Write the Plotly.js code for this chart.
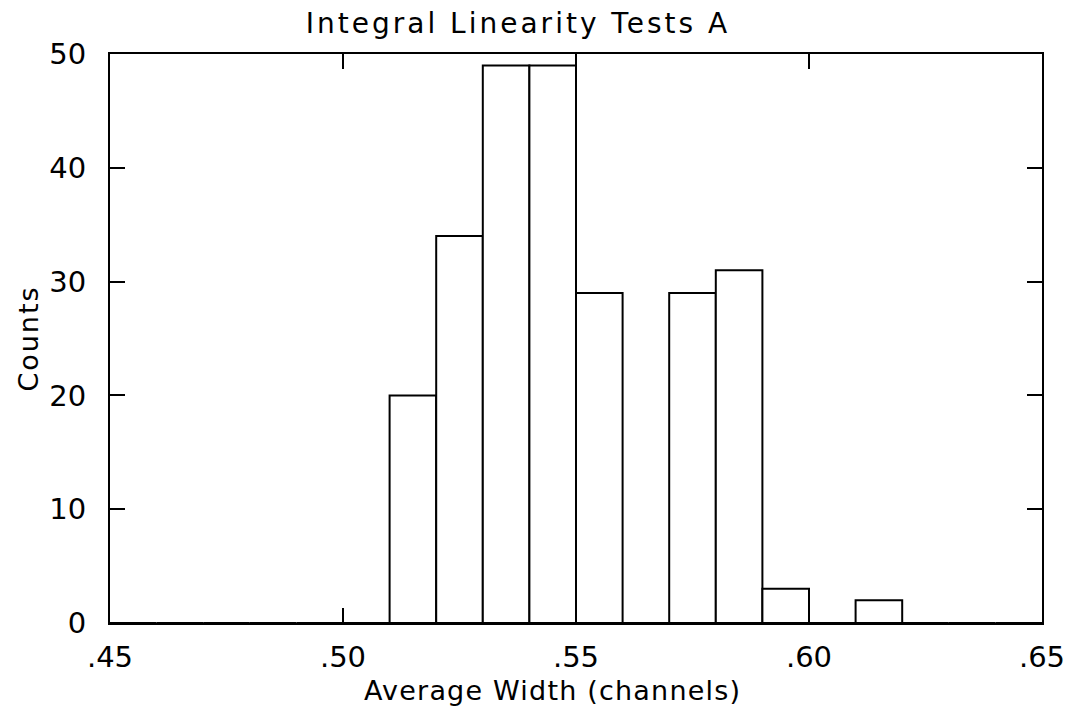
<!DOCTYPE html>
<html>
<head>
<meta charset="utf-8">
<script src="https://cdn.plot.ly/plotly-3.0.1.min.js"></script>
<style>
html,body{margin:0;padding:0;background:#fff;}
#chart{width:1068px;height:712px;}
.gtitle{letter-spacing:3px;}
.g-ytitle text{letter-spacing:2px;}
.annotation-text{letter-spacing:1.2px;}
</style>
</head>
<body>
<div id="chart"></div>
<script>
// Histogram bins (left edges) and counts
var binStarts = [0.45, 0.46, 0.47, 0.48, 0.49, 0.50, 0.51, 0.52, 0.53, 0.54, 0.55, 0.56, 0.57, 0.58, 0.59, 0.60, 0.61, 0.62, 0.63, 0.64];
var counts    = [0,    0,    0,    0,    0,    0,    20,   34,   49,   49,   29,   0,    29,   31,   3,    0,    2,    0,    0,    0];
var binWidth = 0.01;
var xTickVals = [0.45, 0.50, 0.55, 0.60, 0.65];
var xTickText = ['.45', '.50', '.55', '.60', '.65'];
var yTickVals = [0, 10, 20, 30, 40, 50];
var xTitle = 'Average Width (channels)';

var font = 'DejaVu Sans, Arial, sans-serif';

var trace = {
  type: 'bar',
  x: binStarts,
  y: counts,
  width: binWidth,
  offset: 0,
  marker: {color: '#ffffff', line: {color: '#000000', width: 2}},
  hoverinfo: 'x+y'
};

// the bin edge at .55 is drawn up to the top of the frame in the original
var edgeTrace = {
  type: 'scatter', mode: 'lines',
  x: [binStarts[10], binStarts[10]],
  y: [counts[9], yTickVals[yTickVals.length - 1]],
  line: {color: '#000000', width: 2},
  hoverinfo: 'skip'
};

var layout = {
  width: 1068, height: 712,
  margin: {l: 110, r: 26, t: 54, b: 89},
  paper_bgcolor: '#ffffff', plot_bgcolor: '#ffffff',
  showlegend: false,
  bargap: 0,
  title: {text: 'Integral Linearity Tests A', font: {family: font, size: 28, color: '#000'}, x: 0.485, xanchor: 'center', y: 0.968, yanchor: 'middle'},
  xaxis: {
    range: [0.45, 0.65], tickvals: xTickVals, ticktext: xTickText,
    ticks: 'inside', ticklen: 15, tickwidth: 2, tickcolor: '#000',
    showline: true, linecolor: '#000', linewidth: 2, mirror: 'ticks',
    showgrid: false, zeroline: false,
    tickfont: {family: font, size: 29, color: '#000'},
    ticklabelstandoff: 7
  },
  yaxis: {
    range: [0, 50], tickvals: yTickVals,
    ticks: 'inside', ticklen: 15, tickwidth: 2, tickcolor: '#000',
    showline: true, linecolor: '#000', linewidth: 2, mirror: 'ticks',
    showgrid: false, zeroline: false,
    tickfont: {family: font, size: 29, color: '#000'},
    ticklabelstandoff: 16,
    title: {text: 'Counts', font: {family: font, size: 27, color: '#000'}, standoff: 3}
  },
  annotations: [{
    text: xTitle, xref: 'paper', yref: 'paper', x: 0.475, y: 0, yshift: -67,
    xanchor: 'center', yanchor: 'middle', showarrow: false,
    font: {family: font, size: 27, color: '#000'}
  }]
};

Plotly.newPlot('chart', [trace, edgeTrace], layout, {displayModeBar: false, staticPlot: true});
</script>
</body>
</html>
